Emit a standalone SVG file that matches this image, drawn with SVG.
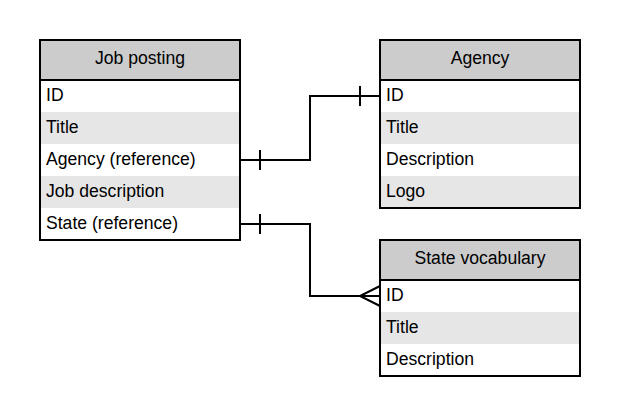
<svg xmlns="http://www.w3.org/2000/svg" width="620" height="416" viewBox="0 0 620 416">
<style>
text{font-family:"Liberation Sans",Arial,sans-serif;font-size:17.6px;fill:#000}
.h{fill:#cccccc}
.alt{fill:#e6e6e6}
.w{fill:#ffffff}
.box{fill:none;stroke:#000;stroke-width:2}
.sep{stroke:#000;stroke-width:2}
.c{fill:none;stroke:#000;stroke-width:2}
.t{text-anchor:middle}
</style>
<rect width="620" height="416" fill="#fff"/>
<g id="job-posting">
<rect class="h" x="40" y="40" width="200" height="40"/>
<rect class="w" x="40" y="80" width="200" height="32"/>
<rect class="alt" x="40" y="112" width="200" height="32"/>
<rect class="w" x="40" y="144" width="200" height="32"/>
<rect class="alt" x="40" y="176" width="200" height="32"/>
<rect class="w" x="40" y="208" width="200" height="32"/>
<line class="sep" x1="40" y1="80" x2="240" y2="80"/>
<rect class="box" x="40" y="40" width="200" height="200"/>
<text class="t" x="140" y="63.5">Job posting</text>
<text x="46" y="100.5">ID</text>
<text x="46" y="132.5">Title</text>
<text x="46" y="164.5">Agency (reference)</text>
<text x="46" y="196.5">Job description</text>
<text x="46" y="228.5">State (reference)</text>
</g>
<g id="agency">
<rect class="h" x="380" y="40" width="200" height="40"/>
<rect class="w" x="380" y="80" width="200" height="32"/>
<rect class="alt" x="380" y="112" width="200" height="32"/>
<rect class="w" x="380" y="144" width="200" height="32"/>
<rect class="alt" x="380" y="176" width="200" height="32"/>
<line class="sep" x1="380" y1="80" x2="580" y2="80"/>
<rect class="box" x="380" y="40" width="200" height="168"/>
<text class="t" x="480" y="63.5">Agency</text>
<text x="386" y="100.5">ID</text>
<text x="386" y="132.5">Title</text>
<text x="386" y="164.5">Description</text>
<text x="386" y="196.5">Logo</text>
</g>
<g id="state-vocabulary">
<rect class="h" x="380" y="240" width="200" height="40"/>
<rect class="w" x="380" y="280" width="200" height="32"/>
<rect class="alt" x="380" y="312" width="200" height="32"/>
<rect class="w" x="380" y="344" width="200" height="32"/>
<line class="sep" x1="380" y1="280" x2="580" y2="280"/>
<rect class="box" x="380" y="240" width="200" height="136"/>
<text class="t" x="480" y="263.5">State vocabulary</text>
<text x="386" y="300.5">ID</text>
<text x="386" y="332.5">Title</text>
<text x="386" y="364.5">Description</text>
</g>
<g id="connectors">
<path class="c" d="M240 160H310V96H380"/>
<path class="c" d="M260 150V170M360 86V106"/>
<path class="c" d="M240 224H310V296H380"/>
<path class="c" d="M260 214V234"/>
<path class="c" d="M380 286L360 296L380 306"/>
</g>
</svg>
